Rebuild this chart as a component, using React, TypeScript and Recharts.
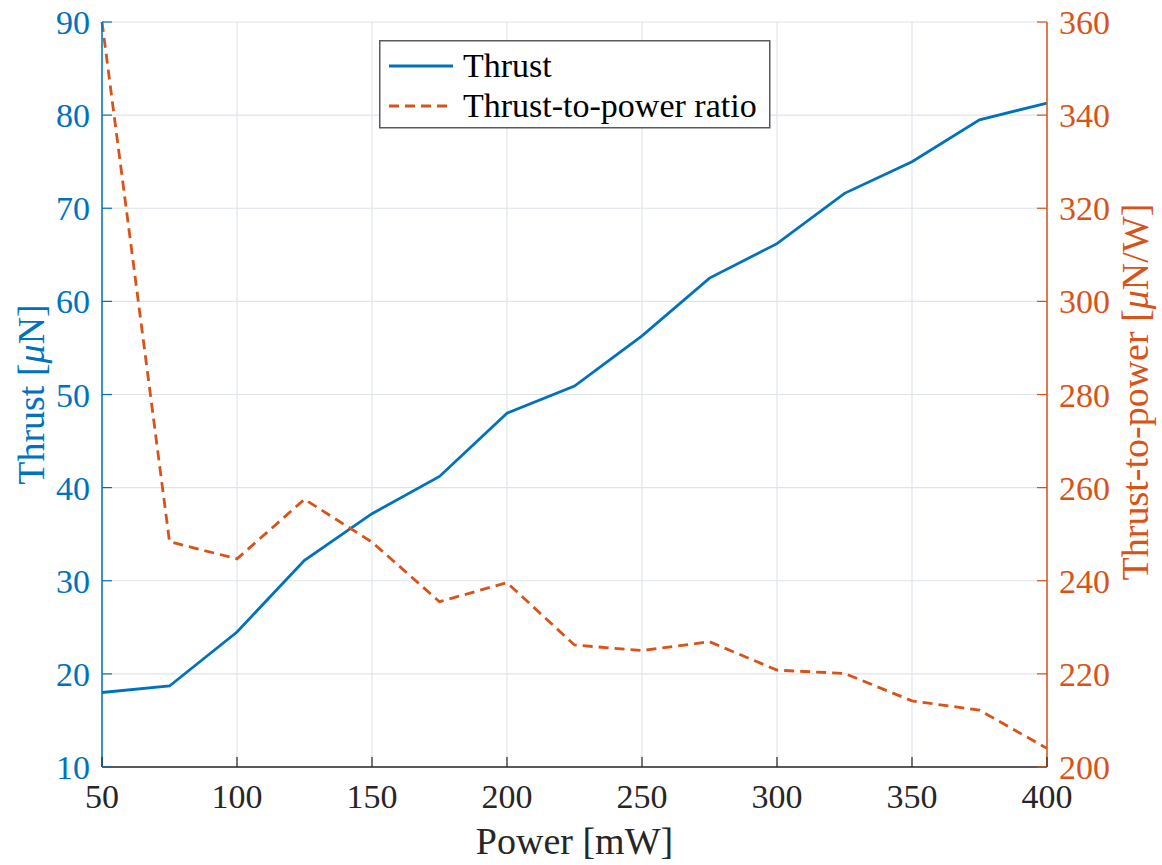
import React from "react";
import {
  LineChart,
  Line,
  XAxis,
  YAxis,
  CartesianGrid,
  Legend,
} from "recharts";

const power = [50, 75, 100, 125, 150, 175, 200, 225, 250, 275, 300, 325, 350, 375, 400];
const thrust = [18.0, 18.7, 24.5, 32.2, 37.2, 41.2, 48.0, 50.9, 56.3, 62.5, 66.2, 71.6, 75.0, 79.5, 81.3];
const ratio = [360, 248.4, 244.7, 257.5, 248.3, 235.5, 239.6, 226.2, 225.0, 226.9, 220.8, 220.1, 214.2, 212.2, 204.0];

const xTicks = [50, 100, 150, 200, 250, 300, 350, 400];
const leftTicks = [10, 20, 30, 40, 50, 60, 70, 80, 90];
const rightTicks = [200, 220, 240, 260, 280, 300, 320, 340, 360];

const seriesNames = ["Thrust", "Thrust-to-power ratio"];

const data = power.map((p, i) => ({ power: p, thrust: thrust[i], ratio: ratio[i] }));

const BLUE = "#0072BD";
const ORANGE = "#D95319";
const DARK = "#262626";
const FONT = "'Liberation Serif', 'Times New Roman', serif";
const TICK_SIZE = 34;
const LABEL_SIZE = 38;

const LeftTick = (props: any) => {
  const { x, y, payload } = props;
  return (
    <g>
      <line x1={x + 12} x2={x + 22} y1={y} y2={y} stroke={BLUE} strokeWidth={1.2} />
      <text x={x} y={y} dy={12} textAnchor="end" fill={BLUE} fontSize={TICK_SIZE} fontFamily={FONT}>
        {payload.value}
      </text>
    </g>
  );
};

const RightTick = (props: any) => {
  const { x, y, payload } = props;
  return (
    <g>
      <line x1={x - 12} x2={x - 22} y1={y} y2={y} stroke={ORANGE} strokeWidth={1.2} />
      <text x={x} y={y} dy={12} textAnchor="start" fill={ORANGE} fontSize={TICK_SIZE} fontFamily={FONT}>
        {payload.value}
      </text>
    </g>
  );
};

const BottomTick = (props: any) => {
  const { x, y, payload } = props;
  return (
    <g>
      <line x1={x} x2={x} y1={y} y2={y - 10} stroke={DARK} strokeWidth={1.2} />
      <text x={x} y={y + 41} textAnchor="middle" fill={DARK} fontSize={TICK_SIZE} fontFamily={FONT}>
        {payload.value}
      </text>
    </g>
  );
};

const LegendBox = (props: any) => {
  const items = props.payload || [];
  return (
    <svg width={392} height={89} style={{ display: "block" }}>
      <rect x={0.75} y={0.75} width={390} height={87} fill="#fff" stroke="#5a5a5a" strokeWidth={1.5} />
      {seriesNames.map((name, i) => {
        const item = items.find((it: any) => it.value === name) || {};
        const dashed = name !== "Thrust";
        const cy = 26 + i * 40;
        return (
          <g key={name}>
            <line
              x1={10}
              x2={74}
              y1={cy}
              y2={cy}
              stroke={item.color || (dashed ? ORANGE : BLUE)}
              strokeWidth={2.8}
              strokeDasharray={dashed ? "10 6" : undefined}
            />
            <text x={84} y={cy + 11} fontSize={34} fontFamily={FONT} fill="#000">
              {name}
            </text>
          </g>
        );
      })}
    </svg>
  );
};

export default function App() {
  return (
    <div style={{ position: "absolute", left: 0, top: 0, width: 1162, height: 865, background: "#fff" }}>
      <LineChart
        width={1162}
        height={865}
        data={data}
        margin={{ top: 22, right: 0, bottom: 0, left: 0 }}
      >
        <CartesianGrid yAxisId="left" stroke="#dfe4eb" strokeWidth={1.2} horizontal={true} vertical={true} />
        <XAxis
          dataKey="power"
          type="number"
          domain={[50, 400]}
          ticks={xTicks}
          height={98}
          tickSize={0}
          tickMargin={0}
          tickLine={false}
          axisLine={{ stroke: DARK, strokeWidth: 1.5 }}
          tick={<BottomTick />}
          interval={0}
          label={{
            content: () => (
              <text x={574.5} y={854} textAnchor="middle" fontSize={LABEL_SIZE} fontFamily={FONT} fill={DARK}>
                Power [mW]
              </text>
            ),
          }}
        />
        <YAxis
          yAxisId="left"
          orientation="left"
          type="number"
          domain={[10, 90]}
          ticks={leftTicks}
          width={102}
          tickSize={0}
          tickMargin={12}
          tickLine={false}
          axisLine={{ stroke: BLUE, strokeWidth: 1.5 }}
          tick={<LeftTick />}
          interval={0}
          label={{
            content: () => (
              <text
                x={44}
                y={394.5}
                textAnchor="middle"
                transform="rotate(-90 44 394.5)"
                fontSize={LABEL_SIZE}
                fontFamily={FONT}
                fill={BLUE}
              >
                Thrust [<tspan fontStyle="italic">μ</tspan>N]
              </text>
            ),
          }}
        />
        <YAxis
          yAxisId="right"
          orientation="right"
          type="number"
          domain={[200, 360]}
          ticks={rightTicks}
          width={115}
          tickSize={0}
          tickMargin={12}
          tickLine={false}
          axisLine={{ stroke: ORANGE, strokeWidth: 1.5 }}
          tick={<RightTick />}
          interval={0}
          label={{
            content: () => (
              <text
                x={1148}
                y={392}
                textAnchor="middle"
                transform="rotate(-90 1148 392)"
                fontSize={LABEL_SIZE}
                fontFamily={FONT}
                fill={ORANGE}
              >
                Thrust-to-power [<tspan fontStyle="italic">μ</tspan>N/W]
              </text>
            ),
          }}
        />
        <Legend
          layout="horizontal"
          verticalAlign="middle"
          align="center"
          content={<LegendBox />}
          wrapperStyle={{ left: 379, top: 40, width: 392, height: 89 }}
        />
        <Line
          yAxisId="left"
          name="Thrust"
          type="linear"
          dataKey="thrust"
          stroke={BLUE}
          strokeWidth={2.8}
          dot={false}
          activeDot={false}
          isAnimationActive={false}
        />
        <Line
          yAxisId="right"
          name="Thrust-to-power ratio"
          type="linear"
          dataKey="ratio"
          stroke={ORANGE}
          strokeWidth={2.8}
          strokeDasharray="10 6"
          dot={false}
          activeDot={false}
          isAnimationActive={false}
        />
      </LineChart>
    </div>
  );
}
